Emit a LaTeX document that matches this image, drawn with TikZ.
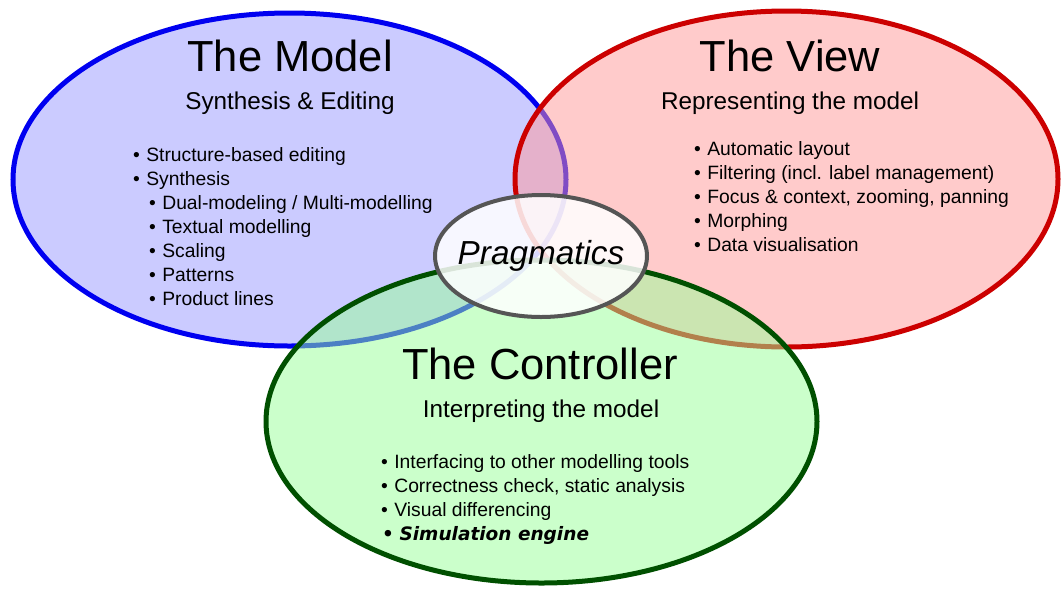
\documentclass[tikz,border=0pt]{standalone}
\usepackage{fontspec}
\setmainfont{Liberation Sans}
\newfontfamily\heavyfont{DejaVu Sans}
\definecolor{mblue}{RGB}{0,0,240}
\definecolor{mred}{RGB}{204,0,0}
\definecolor{mgreen}{RGB}{0,80,0}
\definecolor{fblue}{RGB}{153,153,255}
\definecolor{fred}{RGB}{255,153,153}
\definecolor{fgreen}{RGB}{153,255,153}
\definecolor{pgray}{RGB}{85,85,85}
\tikzset{
  setellipse/.style={line width=5pt, fill opacity=0.5, draw opacity=1},
  pragellipse/.style={draw=pgray, line width=4pt, fill=white, fill opacity=0.85, draw opacity=1},
  title/.style={font=\fontsize{43.5}{50}\selectfont, anchor=base, inner sep=0pt},
  subtitle/.style={font=\fontsize{24.3}{29}\selectfont, anchor=base, inner sep=0pt},
  item/.style={font=\fontsize{19.3}{24}\selectfont, anchor=base west, inner sep=0pt},
}
\newcommand{\bul}{\textbullet\hspace{0.33em}}
\begin{document}
\begin{tikzpicture}[x=1pt,y=-1pt]
\useasboundingbox (0,0) rectangle (1063,590);
\fill[white] (0,0) rectangle (1063,590);
% sets
\draw[setellipse, draw=mblue, fill=fblue] (289.5,179.5) ellipse [x radius=276.5pt, y radius=166.5pt];
\draw[setellipse, draw=mred, fill=fred] (786.5,179) ellipse [x radius=271.5pt, y radius=168pt];
\draw[setellipse, draw=mgreen, fill=fgreen] (541.5,421.5) ellipse [x radius=275.5pt, y radius=161.5pt];
\draw[pragellipse] (541,256) ellipse [x radius=106pt, y radius=61pt];
\node[inner sep=0pt, font=\fontsize{33.3}{38}\selectfont\itshape] (prag) at (541,256) {Pragmatics};
% model
\node[title] (mt) at (290,71) {The Model};
\node[subtitle] (ms) at (290,109) {Synthesis \& Editing};
\node[item] (m1) at (133,161) {\bul Structure-based editing};
\node[item] (m2) at (133,185) {\bul Synthesis};
\node[item] (m3) at (149,209) {\bul Dual-modeling / Multi-modelling};
\node[item] (m4) at (149,233) {\bul Textual modelling};
\node[item] (m5) at (149,257) {\bul Scaling};
\node[item] (m6) at (149,281) {\bul Patterns};
\node[item] (m7) at (149,305) {\bul Product lines};
% view
\node[title] (vt) at (790,71) {The View};
\node[subtitle] (vs) at (790,109) {Representing the model};
\node[item] (v1) at (694,155) {\bul Automatic layout};
\node[item] (v2) at (694,179) {\bul Filtering (incl. label management)};
\node[item] (v3) at (694,203) {\bul Focus \& context, zooming, panning};
\node[item] (v4) at (694,227) {\bul Morphing};
\node[item] (v5) at (694,251) {\bul Data visualisation};
% controller
\node[title] (ct) at (540,379) {The Controller};
\node[subtitle] (cs) at (541,417) {Interpreting the model};
\node[item] (c1) at (381,468) {\bul Interfacing to other modelling tools};
\node[item] (c2) at (381,492) {\bul Correctness check, static analysis};
\node[item] (c3) at (381,516) {\bul Visual differencing};
\node[item, font=\fontsize{18.5}{24}\selectfont\heavyfont\bfseries\itshape] (c4) at (382,540) {\textbullet\hspace{0.3em}Simulation engine};
\end{tikzpicture}
\end{document}
